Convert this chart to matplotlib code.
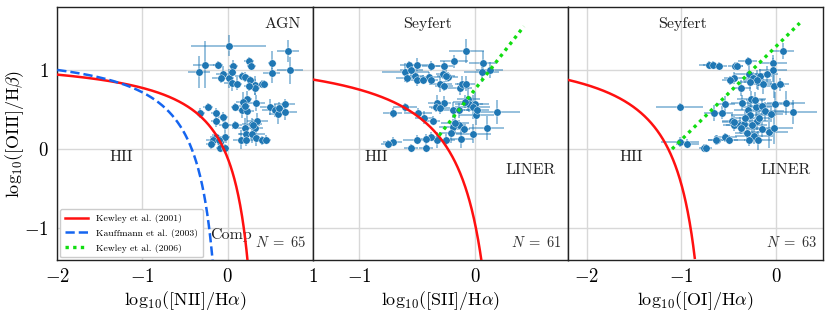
import numpy as np
import matplotlib
matplotlib.use("Agg")
import matplotlib.pyplot as plt

plt.rcParams['font.family'] = 'serif'
plt.rcParams['font.serif'] = ['cmr10', 'DejaVu Serif']
plt.rcParams['mathtext.fontset'] = 'cm'
plt.rcParams['axes.formatter.use_mathtext'] = True
plt.rcParams['axes.unicode_minus'] = True

# ---------------- data ----------------
# Panel 1: [NII]/Ha
x1 = [0.015, 0.71, -0.27, -0.11, 0.07, 0.25, 0.28, 0.52, -0.34, 0.735,
      0.52, -0.055, -0.08, 0.015, 0.055, 0.11, 0.17, 0.21, 0.26, 0.32,
      0.32, 0.40, 0.43, 0.23, 0.18, 0.09, 0.34, 0.17, 0.23, 0.50,
      0.56, 0.59, 0.67, 0.67, -0.23, -0.32, -0.14, -0.05, -0.14, -0.035,
      0.09, 0.20, 0.29, 0.32, 0.35, 0.22, 0.29, 0.16, 0.22, 0.34,
      0.40, -0.14, -0.035, -0.17, -0.19, -0.085, -0.085, -0.03, 0.25, 0.30,
      0.20, -0.10, 0.45, 0.60, 0.05]
y1 = [1.31, 1.24, 1.07, 1.06, 1.05, 1.11, 1.05, 1.09, 0.975, 1.00,
      0.96, 0.95, 0.90, 0.90, 0.84, 0.83, 0.92, 0.91, 0.87, 0.81,
      0.77, 0.83, 0.82, 0.63, 0.60, 0.53, 0.58, 0.49, 0.48, 0.53,
      0.49, 0.44, 0.57, 0.47, 0.53, 0.46, 0.46, 0.41, 0.36, 0.31,
      0.31, 0.27, 0.32, 0.27, 0.36, 0.195, 0.195, 0.12, 0.12, 0.14,
      0.11, 0.15, 0.15, 0.11, 0.065, 0.09, 0.02, 0.015, 0.80, 0.30,
      0.55, 0.12, 0.12, 0.52, 0.98]
xe1 = [0.44, 0.13, 0.14, 0.06, 0.05, 0.06, 0.05, 0.05, 0.13, 0.15,
       0.10, 0.08, 0.10, 0.06, 0.10, 0.06, 0.08, 0.05, 0.08, 0.10,
       0.06, 0.08, 0.05, 0.06, 0.08, 0.05, 0.10, 0.10, 0.08, 0.12,
       0.15, 0.10, 0.12, 0.15, 0.06, 0.05, 0.05, 0.06, 0.05, 0.06,
       0.08, 0.15, 0.12, 0.10, 0.12, 0.10, 0.15, 0.10, 0.08, 0.08,
       0.06, 0.06, 0.06, 0.08, 0.06, 0.08, 0.05, 0.05, 0.06, 0.08,
       0.06, 0.05, 0.06, 0.08, 0.05]
ye1 = [0.13, 0.14, 0.30, 0.05, 0.08, 0.06, 0.04, 0.15, 0.20, 0.17,
       0.12, 0.10, 0.06, 0.12, 0.10, 0.08, 0.05, 0.06, 0.06, 0.12,
       0.08, 0.05, 0.05, 0.10, 0.12, 0.05, 0.10, 0.10, 0.15, 0.10,
       0.08, 0.12, 0.06, 0.10, 0.05, 0.06, 0.06, 0.06, 0.08, 0.10,
       0.05, 0.12, 0.08, 0.08, 0.10, 0.08, 0.12, 0.12, 0.08, 0.10,
       0.06, 0.06, 0.06, 0.08, 0.06, 0.05, 0.05, 0.05, 0.06, 0.08,
       0.06, 0.05, 0.06, 0.08, 0.05]

# Panel 2: [SII]/Ha
x2 = [-0.075, -0.18, 0.067, -0.57, -0.50, -0.38, -0.27, 0.124, 0.058, -0.60,
      -0.28, -0.585, -0.52, -0.50, -0.395, -0.38, -0.30, -0.27, -0.23, -0.13,
      -0.115, -0.08, -0.06, -0.05, 0.0, -0.02, 0.01, 0.19, -0.27, -0.33,
      -0.34, -0.605, -0.71, -0.49, -0.44, -0.36, -0.135, -0.19, -0.21, -0.017,
      0.10, -0.12, -0.25, -0.33, -0.38, -0.42, -0.50, -0.71, -0.75, -0.555,
      -0.42, -0.17, -0.19, -0.135, -0.45, -0.09, -0.55, -0.25, 0.02, -0.30,
      -0.10]
y2 = [1.24, 1.11, 1.09, 1.06, 1.07, 1.05, 1.05, 1.00, 0.97, 0.975,
      0.95, 0.90, 0.92, 0.88, 0.91, 0.87, 0.82, 0.80, 0.91, 0.77,
      0.83, 0.83, 0.635, 0.57, 0.57, 0.53, 0.43, 0.47, 0.59, 0.58,
      0.53, 0.53, 0.46, 0.46, 0.40, 0.36, 0.31, 0.28, 0.20, 0.195,
      0.27, 0.135, 0.11, 0.12, 0.16, 0.13, 0.12, 0.095, 0.07, 0.015,
      0.01, 0.33, 0.50, 0.49, 0.88, 0.60, 1.00, 0.93, 0.50, 0.52,
      0.25]
xe2 = [0.15, 0.12, 0.12, 0.08, 0.10, 0.08, 0.08, 0.12, 0.15, 0.20,
       0.06, 0.10, 0.08, 0.10, 0.08, 0.06, 0.10, 0.08, 0.08, 0.10,
       0.06, 0.08, 0.10, 0.12, 0.12, 0.15, 0.15, 0.20, 0.06, 0.08,
       0.06, 0.10, 0.08, 0.12, 0.08, 0.06, 0.06, 0.12, 0.10, 0.15,
       0.15, 0.10, 0.08, 0.10, 0.06, 0.10, 0.12, 0.08, 0.06, 0.06,
       0.06, 0.12, 0.10, 0.08, 0.08, 0.10, 0.10, 0.08, 0.10, 0.08,
       0.06]
ye2 = [0.15, 0.08, 0.15, 0.06, 0.08, 0.06, 0.06, 0.10, 0.12, 0.12,
       0.06, 0.06, 0.06, 0.08, 0.06, 0.06, 0.10, 0.06, 0.06, 0.08,
       0.10, 0.10, 0.15, 0.10, 0.15, 0.15, 0.12, 0.15, 0.08, 0.10,
       0.06, 0.06, 0.06, 0.06, 0.08, 0.06, 0.06, 0.10, 0.12, 0.12,
       0.15, 0.12, 0.08, 0.10, 0.06, 0.06, 0.06, 0.06, 0.05, 0.05,
       0.05, 0.12, 0.10, 0.10, 0.06, 0.08, 0.10, 0.08, 0.10, 0.08,
       0.06]

# Panel 3: [OI]/Ha
x3 = [0.07, -0.03, -0.30, -0.71, -0.67, -0.60, -0.43, -0.41, -0.035, -0.29,
      -0.24, -0.165, -0.45, -0.49, -0.37, -0.19, -0.14, -0.025, 0.04, -1.02,
      -0.535, -0.66, -0.575, -0.355, -0.26, -0.21, -0.15, -0.12, -0.01, 0.105,
      0.18, -0.30, -0.28, -0.205, -0.25, -0.47, -0.44, -0.38, -0.335, -0.37,
      -0.31, -0.23, -0.29, -0.19, -0.07, -0.025, -0.62, -0.535, -0.50, -0.76,
      -0.74, -1.02, -0.94, -0.64, -0.20, -0.10, -0.33, -0.18, -0.28, -0.15,
      -0.45, -0.22, -0.05]
y3 = [1.24, 1.09, 1.11, 1.06, 1.07, 1.05, 1.05, 1.05, 1.00, 0.95,
      0.90, 0.92, 0.90, 0.87, 0.77, 0.845, 0.82, 0.80, 0.82, 0.53,
      0.57, 0.455, 0.46, 0.59, 0.63, 0.53, 0.54, 0.48, 0.57, 0.58,
      0.47, 0.49, 0.43, 0.36, 0.30, 0.36, 0.31, 0.31, 0.32, 0.27,
      0.20, 0.17, 0.115, 0.115, 0.22, 0.27, 0.115, 0.15, 0.12, 0.01,
      0.01, 0.09, 0.07, 0.115, 0.88, 0.95, 0.40, 0.40, 0.85, 0.25,
      0.34, 0.62, 0.45]
xe3 = [0.12, 0.15, 0.10, 0.10, 0.10, 0.08, 0.08, 0.06, 0.15, 0.15,
       0.10, 0.12, 0.10, 0.08, 0.10, 0.15, 0.12, 0.12, 0.10, 0.25,
       0.10, 0.10, 0.12, 0.12, 0.15, 0.15, 0.15, 0.20, 0.20, 0.20,
       0.25, 0.15, 0.20, 0.12, 0.15, 0.10, 0.12, 0.15, 0.12, 0.10,
       0.12, 0.20, 0.15, 0.15, 0.20, 0.20, 0.10, 0.12, 0.10, 0.06,
       0.06, 0.20, 0.12, 0.08, 0.15, 0.12, 0.10, 0.12, 0.10, 0.15,
       0.12, 0.10, 0.12]
ye3 = [0.10, 0.10, 0.06, 0.05, 0.05, 0.05, 0.05, 0.05, 0.15, 0.15,
       0.08, 0.10, 0.08, 0.06, 0.10, 0.10, 0.12, 0.15, 0.08, 0.05,
       0.10, 0.10, 0.08, 0.10, 0.10, 0.12, 0.10, 0.12, 0.15, 0.15,
       0.15, 0.12, 0.15, 0.12, 0.12, 0.08, 0.08, 0.10, 0.10, 0.08,
       0.10, 0.10, 0.08, 0.12, 0.20, 0.20, 0.06, 0.06, 0.06, 0.05,
       0.05, 0.06, 0.06, 0.06, 0.12, 0.10, 0.10, 0.10, 0.12, 0.10,
       0.08, 0.10, 0.10]

xlabels = [r'$\mathrm{log}_{10}([\mathrm{NII}]/\mathrm{H}\alpha)$',
           r'$\mathrm{log}_{10}([\mathrm{SII}]/\mathrm{H}\alpha)$',
           r'$\mathrm{log}_{10}([\mathrm{OI}]/\mathrm{H}\alpha)$']
ylabel = r'$\mathrm{log}_{10}([\mathrm{OIII}]/\mathrm{H}\beta)$'
legend_labels = ['Kewley et al. (2001)', 'Kauffmann et al. (2003)', 'Kewley et al. (2006)']
counts = [65, 61, 63]

# ---------------- figure ----------------
fig, axes = plt.subplots(1, 3, figsize=(8.3, 3.12), dpi=100, sharey=True)
fig.subplots_adjust(left=0.069, right=0.992, top=0.978, bottom=0.167, wspace=0)

RED = '#ff1010'
BLUE = '#1565f0'
GREEN = '#11dd11'
PT = '#1f77b4'
ECOL = (0.12, 0.47, 0.71, 0.55)
TXT = '#222222'
FS_ANN = 11.5

xlims = [(-2, 1), (-1.4, 0.8), (-2.2, 0.5)]
xticks = [[-2, -1, 0, 1], [-1, 0], [-2, -1, 0]]
data = [(x1, y1, xe1, ye1), (x2, y2, xe2, ye2), (x3, y3, xe3, ye3)]

for i, ax in enumerate(axes):
    ax.set_xlim(*xlims[i])
    ax.set_ylim(-1.4, 1.8)
    ax.set_xticks(xticks[i])
    ax.set_yticks([-1, 0, 1])
    ax.grid(True, color='#d8d8d8', lw=1.0)
    ax.set_axisbelow(True)
    ax.tick_params(length=0, labelsize=13.5, pad=6)
    for s in ax.spines.values():
        s.set_color('#222222')
        s.set_linewidth(1.0)
    ax.set_xlabel(xlabels[i], fontsize=13, labelpad=2)
    xs, ys, xe, ye = data[i]
    ax.errorbar(xs, ys, xerr=xe, yerr=ye, fmt='none', ecolor=ECOL, elinewidth=1.2, zorder=3)
    ax.plot(xs, ys, 'o', color=PT, ms=5.3, mec='white', mew=0.3, zorder=4)
    ax.text(0.975, 0.04, r'$N\;=\;%d$' % counts[i], transform=ax.transAxes,
            ha='right', va='bottom', fontsize=10.5, color='#333333')

# Panel 1 curves
ax = axes[0]
xx = np.linspace(-2, 0.25, 400)
l1, = ax.plot(xx, 0.61 / (xx - 0.47) + 1.19, color=RED, lw=1.8, zorder=5)
xx = np.linspace(-2, -0.17, 400)
l2, = ax.plot(xx, 0.61 / (xx - 0.05) + 1.3, color=BLUE, lw=1.8, ls='--', zorder=5)
l3, = ax.plot([], [], color=GREEN, lw=2.4, ls=(0, (1, 1.3)))
ax.legend([l1, l2, l3], legend_labels, loc='lower left', fontsize=7,
          frameon=True, fancybox=True, edgecolor='#cccccc', framealpha=1,
          borderpad=0.5, handlelength=2.4, labelspacing=0.6, borderaxespad=0.25)
ax.text(0.86, 1.58, 'AGN', fontsize=FS_ANN, ha='right', va='center', color=TXT)
ax.text(-1.25, -0.1, 'HII', fontsize=FS_ANN, ha='center', va='center', color=TXT)
ax.text(-0.21, -1.08, 'Comp', fontsize=FS_ANN, ha='left', va='center', color=TXT)
axes[0].set_ylabel(ylabel, fontsize=13)
axes[0].yaxis.set_label_coords(-0.122, 0.5)

# Panel 2 curves
ax = axes[1]
xx = np.linspace(-1.4, 0.07, 400)
ax.plot(xx, 0.72 / (xx - 0.32) + 1.30, color=RED, lw=1.8, zorder=5)
xx = np.linspace(-0.31, 0.42, 50)
ax.plot(xx, 1.89 * xx + 0.76, color=GREEN, lw=2.4, ls=(0, (1, 1.3)), zorder=5)
ax.text(-0.41, 1.58, 'Seyfert', fontsize=FS_ANN, ha='center', va='center', color=TXT)
ax.text(-0.85, -0.1, 'HII', fontsize=FS_ANN, ha='center', va='center', color=TXT)
ax.text(0.475, -0.27, 'LINER', fontsize=FS_ANN, ha='center', va='center', color=TXT)

# Panel 3 curves
ax = axes[2]
xx = np.linspace(-2.2, -0.86, 400)
ax.plot(xx, 0.73 / (xx + 0.59) + 1.33, color=RED, lw=1.8, zorder=5)
xx = np.linspace(-1.1, 0.25, 50)
ax.plot(xx, 1.18 * xx + 1.30, color=GREEN, lw=2.4, ls=(0, (1, 1.3)), zorder=5)
ax.text(-0.99, 1.58, 'Seyfert', fontsize=FS_ANN, ha='center', va='center', color=TXT)
ax.text(-1.53, -0.1, 'HII', fontsize=FS_ANN, ha='center', va='center', color=TXT)
ax.text(0.10, -0.27, 'LINER', fontsize=FS_ANN, ha='center', va='center', color=TXT)

fig.savefig('out.png', dpi=100)
